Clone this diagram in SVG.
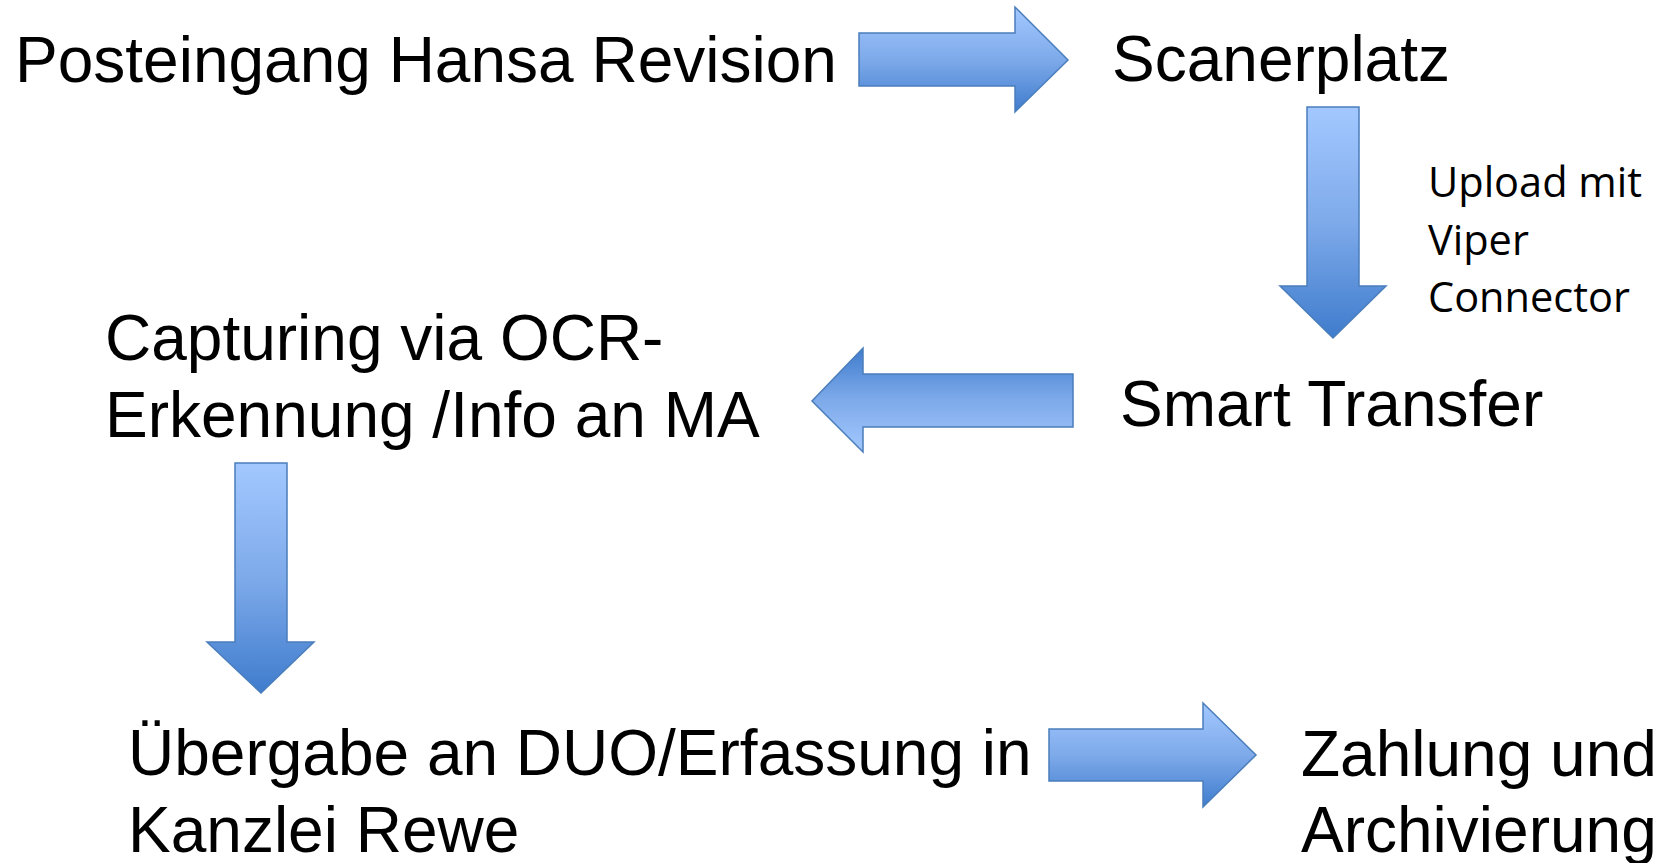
<svg xmlns="http://www.w3.org/2000/svg" width="1662" height="863" viewBox="0 0 1662 863">
  <defs>
    <linearGradient id="gDown" x1="0" y1="0" x2="0" y2="1">
      <stop offset="0" stop-color="#a3c8ff"/>
      <stop offset="0.5" stop-color="#7eaaea"/>
      <stop offset="1" stop-color="#3f7ccd"/>
    </linearGradient>
    <linearGradient id="gUp" x1="0" y1="1" x2="0" y2="0">
      <stop offset="0" stop-color="#a3c8ff"/>
      <stop offset="0.5" stop-color="#7eaaea"/>
      <stop offset="1" stop-color="#3f7ccd"/>
    </linearGradient>
    <style>
      .arrow { stroke: #4a7ebb; stroke-width: 1.5; stroke-linejoin: miter; }
      .big { font-family: "Liberation Sans", Arial, sans-serif; font-size: 64px; fill: #000; }
      .small { font-family: "Open Sans", "Liberation Sans", sans-serif; font-size: 41.5px; fill: #000; }
    </style>
  </defs>

  <g id="connectors">
    <polygon class="arrow" fill="url(#gDown)" points="859,33 1015,33 1015,7 1068,60 1015,112 1015,86 859,86"/>
    <polygon class="arrow" fill="url(#gDown)" points="1307,107 1359,107 1359,286 1386,286 1333,338 1280,286 1307,286"/>
    <polygon class="arrow" fill="url(#gUp)" points="1073,374 863,374 863,348 812,401 863,452 863,427 1073,427"/>
    <polygon class="arrow" fill="url(#gDown)" points="235,463 287,463 287,642 314,642 261,693 207,642 235,642"/>
    <polygon class="arrow" fill="url(#gDown)" points="1049,729 1203,729 1203,703 1256,755 1203,807 1203,781 1049,781"/>
    <g id="label-upload">
      <text class="small" x="1428" y="197">Upload mit</text>
      <text class="small" x="1428" y="255">Viper</text>
      <text class="small" x="1428" y="312">Connector</text>
    </g>
  </g>

  <g id="node-posteingang">
    <text class="big" x="15" y="82">Posteingang Hansa Revision</text>
  </g>
  <g id="node-scanerplatz">
    <text class="big" x="1112" y="81">Scanerplatz</text>
  </g>
  <g id="node-smart-transfer">
    <text class="big" x="1120" y="426">Smart Transfer</text>
  </g>
  <g id="node-capturing">
    <text class="big" x="105" y="360">Capturing via OCR-</text>
    <text class="big" x="105" y="437">Erkennung /Info an MA</text>
  </g>
  <g id="node-uebergabe">
    <text class="big" x="128" y="775">Übergabe an DUO/Erfassung in</text>
    <text class="big" x="128" y="852">Kanzlei Rewe</text>
  </g>
  <g id="node-zahlung">
    <text class="big" x="1301" y="776">Zahlung und</text>
    <text class="big" x="1301" y="852">Archivierung</text>
  </g>
</svg>
